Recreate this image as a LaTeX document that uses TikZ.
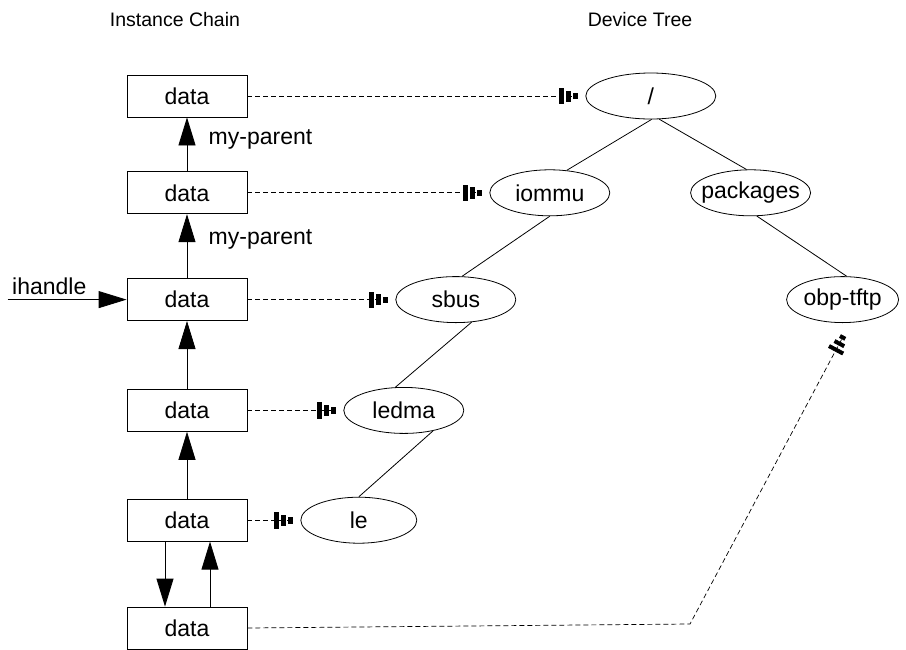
\documentclass[tikz,border=0pt]{standalone}
\usepackage{fontspec}
\setmainfont{Liberation Sans}
\usetikzlibrary{shapes,arrows.meta,positioning}

\begin{document}
\begin{tikzpicture}[
    x=1pt,
    y=-1pt,
    font=\fontsize{23}{27}\selectfont,
    block/.style={
        rectangle,
        draw,
        line width=0.8pt,
        minimum height=42pt,
        minimum width=120pt
    },
    devnode/.style={
        ellipse,
        draw,
        line width=0.8pt,
        inner sep=-8pt,
        minimum height=46pt,
        minimum width=120pt
    },
    title/.style={font=\fontsize{19.5}{23}\selectfont},
    line/.style={draw, line width=0.8pt, -{Triangle[length=28pt,width=17pt]}},
    link/.style={draw, line width=0.7pt, dash pattern=on 5pt off 3pt, shorten >=5pt,
        -{Rectangle[length=4pt,width=16pt,sep=3pt] Rectangle[length=4pt,width=11pt,sep=3pt] Rectangle[length=4pt,width=6pt,sep=3pt]}},
    branch/.style={draw, line width=0.8pt}
]
\useasboundingbox (0,0) rectangle (906,649);

% Titles
\node [title] (chaintitle) at (175,20) {Instance Chain};
\node [title] (treetitle) at (640,20) {Device Tree};

% Instance chain
\node [block] (data1) at (187,96) {data};
\node [block, below=54pt of data1] (data2) {data};
\node [block, below=64pt of data2] (data3) {data};
\node [block, below=68pt of data3] (data4) {data};
\node [block, below=67pt of data4] (data5) {data};
\node [block, below=65pt of data5] (data6) {data};

% Device tree
\node [devnode, minimum width=130pt, right=338pt of data1] (root) {/};
\node [devnode, right=242pt of data2] (iommu) {iommu};
\node [devnode, right=80pt of iommu] (packages) {packages};
\node [devnode, right=148pt of data3] (sbus) {sbus};
\node [devnode, minimum width=112pt, right=270pt of sbus] (obptftp) {obp-tftp};
\node [devnode, right=96pt of data4] (ledma) {ledma};
\node [devnode, minimum width=116pt, right=53pt of data5] (le) {le};

% my-parent links
\draw [line] (data2) -- node[pos=0.6, right=18pt] {my-parent} (data1);
\draw [line] (data3) -- node[pos=0.6, right=18pt] {my-parent} (data2);
\draw [line] (data4) -- (data3);
\draw [line] (data5) -- (data4);
\draw [line] ([xshift=-22pt]data5.south) -- ([xshift=-22pt]data6.north);
\draw [line] ([xshift=23pt]data6.north) -- ([xshift=23pt]data5.south);

% ihandle
\coordinate [left=119pt of data3] (ih);
\draw [line] (ih) -- node[pos=0.35, above=1pt] {ihandle} (data3);

% Tree branches
\draw [branch] (root.272) -- (iommu.53);
\draw [branch] (root.290) -- (packages.100);
\draw [branch] (iommu.south) -- (sbus.75);
\draw [branch] (packages.285) -- (obptftp.80);
\draw [branch] (sbus.305) -- (ledma.110);
\draw [branch] (ledma.325) -- (le.north);

% Instances to nodes
\draw [link] (data1) -- (root);
\draw [link] (data2) -- (iommu);
\draw [link] (data3) -- (sbus);
\draw [link] (data4) -- (ledma);
\draw [link] (data5) -- (le);
\coordinate (bend) at (690,624);
\coordinate (obpin) at (845,333);
\draw [link, shorten >=0pt] (data6.east) -- (bend) -- (obpin);

\end{tikzpicture}
\end{document}
